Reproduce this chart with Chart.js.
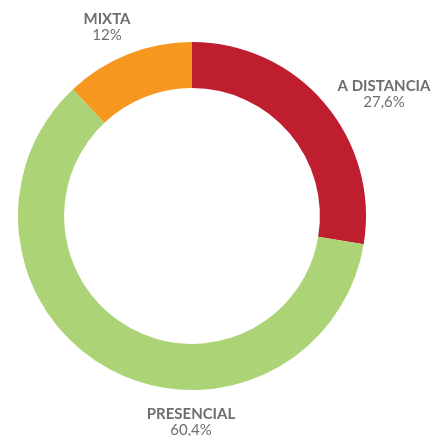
<!DOCTYPE html>
<html>
<head>
<meta charset="utf-8">
<script src="https://cdn.jsdelivr.net/npm/chart.js@4"></script>
<style>
  html, body { margin: 0; padding: 0; background: #fff; }
  #wrap { width: 447px; height: 436px; position: relative; }
</style>
</head>
<body>
<div id="wrap"><canvas id="c" width="447" height="436"></canvas></div>
<script>
const categories = ["A DISTANCIA", "PRESENCIAL", "MIXTA"];
const values = [27.6, 60.4, 12];
const valueLabels = ["27,6%", "60,4%", "12%"];
const colors = ["#be1e2d", "#acd477", "#f6971f"];

// where each label sits (center of text block)
const labelPos = [
  { x: 384, y: 86 },
  { x: 191, y: 414 },
  { x: 107, y: 19 }
];

const outsideLabels = {
  id: "outsideLabels",
  afterDraw(chart) {
    const ctx = chart.ctx;
    ctx.save();
    ctx.textAlign = "center";
    ctx.textBaseline = "middle";
    ctx.fillStyle = "#6d6e71";
    for (let i = 0; i < categories.length; i++) {
      const p = labelPos[i];
      ctx.font = "bold 15px Lato";
      ctx.fillText(categories[i], p.x, p.y);
      ctx.font = "15px Lato";
      ctx.fillText(valueLabels[i], p.x, p.y + 16);
    }
    ctx.restore();
  }
};

const config = {
  type: "doughnut",
  data: {
    labels: categories,
    datasets: [
      {
        data: values,
        backgroundColor: colors,
        borderWidth: 0,
        hoverOffset: 0
      }
    ]
  },
  options: {
    responsive: false,
    animation: false,
    cutout: "73.5%",
    layout: {
      padding: { left: 18, right: 81, top: 42, bottom: 46 }
    },
    plugins: {
      legend: { display: false },
      tooltip: { enabled: false }
    }
  },
  plugins: [outsideLabels]
};

new Chart(document.getElementById("c"), config);
</script>
</body>
</html>
